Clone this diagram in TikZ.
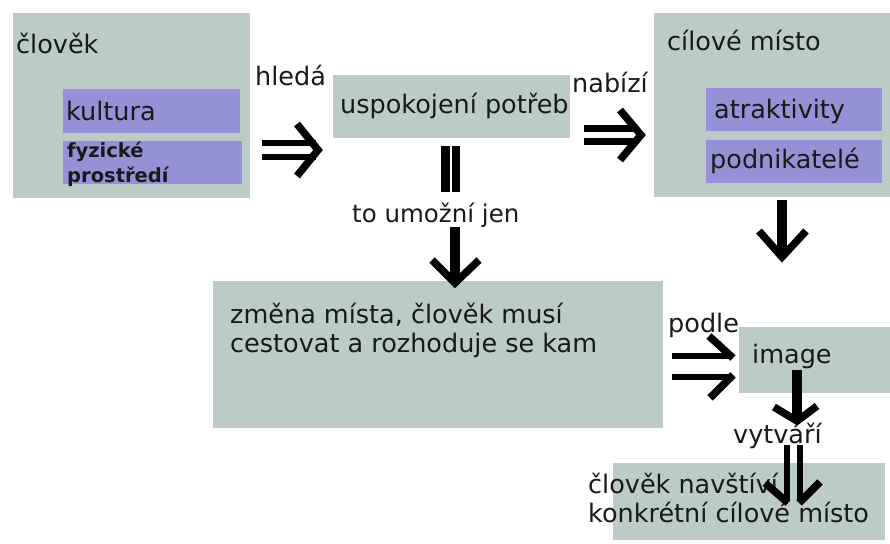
\documentclass[tikz,border=0pt]{standalone}
\usepackage{fontspec}
\setmainfont{DejaVu Sans}
\definecolor{panelgray}{RGB}{186,203,200}
\definecolor{tagviolet}{RGB}{149,145,214}
\tikzset{
  panel/.style={fill=panelgray, draw=none, inner sep=0pt, anchor=north west},
  tag/.style={fill=tagviolet, draw=none, inner sep=0pt, anchor=north west},
  lbl/.style={anchor=base west, inner sep=0pt, text=black!90,
              font=\fontsize{25.5}{30}\selectfont},
  small/.style={anchor=base west, inner sep=0pt, text=black!90,
              font=\bfseries\fontsize{19.5}{25}\selectfont},
  shaft/.style={line width=6.5pt, line cap=butt},
  thick shaft/.style={line width=10pt, line cap=butt},
  barb/.style={line width=7.5pt, line cap=butt, line join=miter},
}
\begin{document}
\begin{tikzpicture}[x=1pt, y=-1pt]
\useasboundingbox (0,0) rectangle (890,543);

% boxes
\node[panel, minimum width=237pt, minimum height=185pt] (clovek) at (13,13) {};
\node[tag, minimum width=177pt, minimum height=44pt] (kultura) at (63,89) {};
\node[tag, minimum width=179pt, minimum height=43pt] (prostredi) at (63,141) {};
\node[panel, minimum width=237pt, minimum height=63pt] (potreby) at (333,75) {};
\node[panel, minimum width=236pt, minimum height=184pt] (cil) at (654,13) {};
\node[tag, minimum width=176pt, minimum height=43pt] (atrakt) at (706,88) {};
\node[tag, minimum width=176pt, minimum height=43pt] (podnik) at (706,140) {};
\node[panel, minimum width=450pt, minimum height=147pt] (zmena) at (213,281) {};
\node[panel, minimum width=151pt, minimum height=66pt] (image) at (739,327) {};
\node[panel, minimum width=272pt, minimum height=77pt] (navsteva) at (613,463) {};

% texts
\node[lbl] (t-clovek) at (16,53) {člověk};
\node[lbl] (t-kultura) at (66,120) {kultura};
\node[small] (t-fyz1) at (67,157) {fyzické};
\node[small] (t-fyz2) at (67,182) {prostředí};
\node[lbl] (t-hleda) at (255,85) {hledá};
\node[lbl] (t-potreby) at (340,113) {uspokojení potřeb};
\node[lbl] (t-nabizi) at (572,92) {nabízí};
\node[lbl, font=\fontsize{24.5}{28}\selectfont] (t-umozni) at (352,222) {to umožní jen};
\node[lbl] (t-cil) at (667,50) {cílové místo};
\node[lbl] (t-atrakt) at (714,118) {atraktivity};
\node[lbl] (t-podnik) at (710,168) {podnikatelé};
\node[lbl] (t-zmena1) at (230,323) {změna místa, člověk musí};
\node[lbl] (t-zmena2) at (230,352) {cestovat a rozhoduje se kam};
\node[lbl] (t-podle) at (668,332) {podle};
\node[lbl] (t-image) at (752,363) {image};
\node[lbl] (t-vytvari) at (733,443) {vytváří};
\node[lbl] (t-nav1) at (588,493) {člověk navštíví};
\node[lbl] (t-nav2) at (588,522) {konkrétní cílové místo};

% člověk hledá -> uspokojení potřeb
\draw[shaft] (262,143) -- (316,143);
\draw[shaft] (262,157) -- (316,157);
\draw[barb] (297,124) -- (318,150) -- (297,176);

% uspokojení potřeb nabízí -> cílové místo
\draw[shaft] (584,128.5) -- (638,128.5);
\draw[shaft] (584,141.5) -- (638,141.5);
\draw[barb] (620,110) -- (641,135) -- (620,160);

% equality bars under uspokojení potřeb
\draw[line width=8.5pt] (445.5,146) -- (445.5,192);
\draw[line width=8.5pt] (456,146) -- (456,192);

% to umožní jen -> změna místa
\draw[thick shaft] (455,227) -- (455,280);
\draw[barb] (432,260) -- (455,283) -- (479,260);

% cílové místo -> image
\draw[thick shaft] (782,200) -- (782,255);
\draw[barb] (759,231) -- (782,257) -- (806,231);

% změna místa podle -> image
\draw[shaft] (672,356) -- (731,356);
\draw[barb] (709,336) -- (733,358);
\draw[shaft] (672,377) -- (731,377);
\draw[barb] (733,375) -- (710,398);

% image -> vytváří
\draw[thick shaft] (797,370) -- (797,418);
\draw[barb] (774,407) -- (797,421) -- (817,406);

% vytváří -> člověk navštíví
\draw[shaft] (787,445) -- (787,501);
\draw[barb] (765,483) -- (788,503);
\draw[shaft] (800,445) -- (800,501);
\draw[barb] (820,482) -- (799,503);
\end{tikzpicture}
\end{document}
